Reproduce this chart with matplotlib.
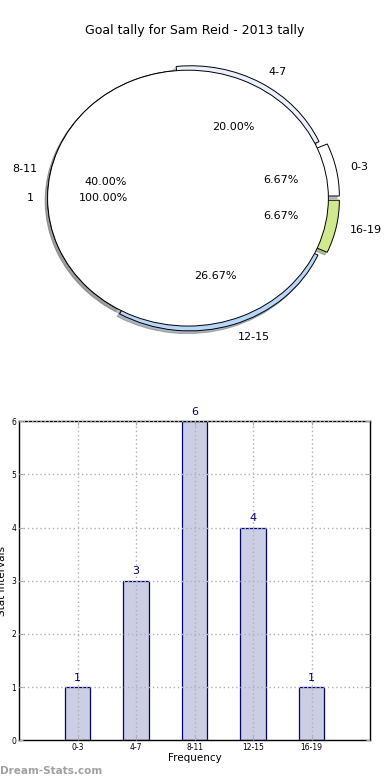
import matplotlib
matplotlib.use('Agg')
import matplotlib.pyplot as plt
import numpy as np

# --- data ---------------------------------------------------------------
title = "Goal tally for Sam Reid - 2013 tally"
intervals = ["0-3", "4-7", "8-11", "12-15", "16-19"]
counts = [1, 3, 6, 4, 1]
slice_colors = ["#ffffff", "#eaf0fc", "#ffffff", "#b8d6f8", "#d0e98c"]
slice_explode = [0.08, 0.04, 0.0, 0.04, 0.08]
inner_labels = ["1"]
inner_values = [1]

fig = plt.figure(figsize=(3.9, 7.8), dpi=100)
fig.text(0.5, 0.961, title, ha="center", va="center", fontsize=9)

# --- pie (top) ---------------------------------------------------------
shadow = dict(ox=-0.012, oy=-0.015, shade=0.5)
ax_pie = fig.add_axes([0.032, 0.541, 0.9, 0.41])
ax_pie.pie(counts, labels=intervals, colors=slice_colors, explode=slice_explode,
           autopct="%.2f%%", startangle=0, shadow=shadow, labeldistance=1.1,
           pctdistance=0.6, wedgeprops=dict(edgecolor="black", linewidth=0.7),
           textprops=dict(fontsize=8))
ax_pie.pie(inner_values, labels=inner_labels, colors=["white"], autopct="%.2f%%",
           startangle=0, shadow=shadow, labeldistance=1.1, pctdistance=0.6,
           wedgeprops=dict(edgecolor="black", linewidth=0.7),
           textprops=dict(fontsize=8))
ax_pie.set_aspect("auto")
ax_pie.set_xlim(-1.25, 1.25)
ax_pie.set_ylim(-1.25, 1.25)

# --- bar chart (bottom) ------------------------------------------------
ax = fig.add_axes([0.049, 0.051, 0.9, 0.409])
x = np.arange(len(intervals))
bars = ax.bar(x, counts, width=0.44, color="#cccee4", edgecolor="#000080",
              linewidth=0.9, zorder=2)
for b, c in zip(bars, counts):
    ax.text(b.get_x() + b.get_width() / 2, c + 0.08, str(c), ha="center",
            va="bottom", color="#000080", fontsize=8, clip_on=False)
ax.set_xlim(-1, 5)
ax.set_ylim(0, 6)
ax.set_xticks(x)
ax.set_xticklabels(intervals, fontsize=5.5)
ax.set_yticks(range(7))
ax.tick_params(axis="y", labelsize=5.5)
ax.tick_params(direction="in", length=3, color="#aaaaaa", top=True, right=True, pad=2)
ax.grid(True, linestyle=(0, (1, 2)), color="#b0b0b0", linewidth=1.0, zorder=3)
ax.set_axisbelow(False)
for s in ax.spines.values():
    s.set_linewidth(1.0)
ax.set_xlabel("Frequency", fontsize=7.5, labelpad=1)
ax.set_ylabel("Stat Intervals", fontsize=7.5, labelpad=3)

fig.text(0.0, 0.012, "Dream-Stats.com", color="#a0a0a0", fontsize=7.5,
         fontweight="bold", ha="left", va="center")

fig.savefig("out.png", dpi=100)
